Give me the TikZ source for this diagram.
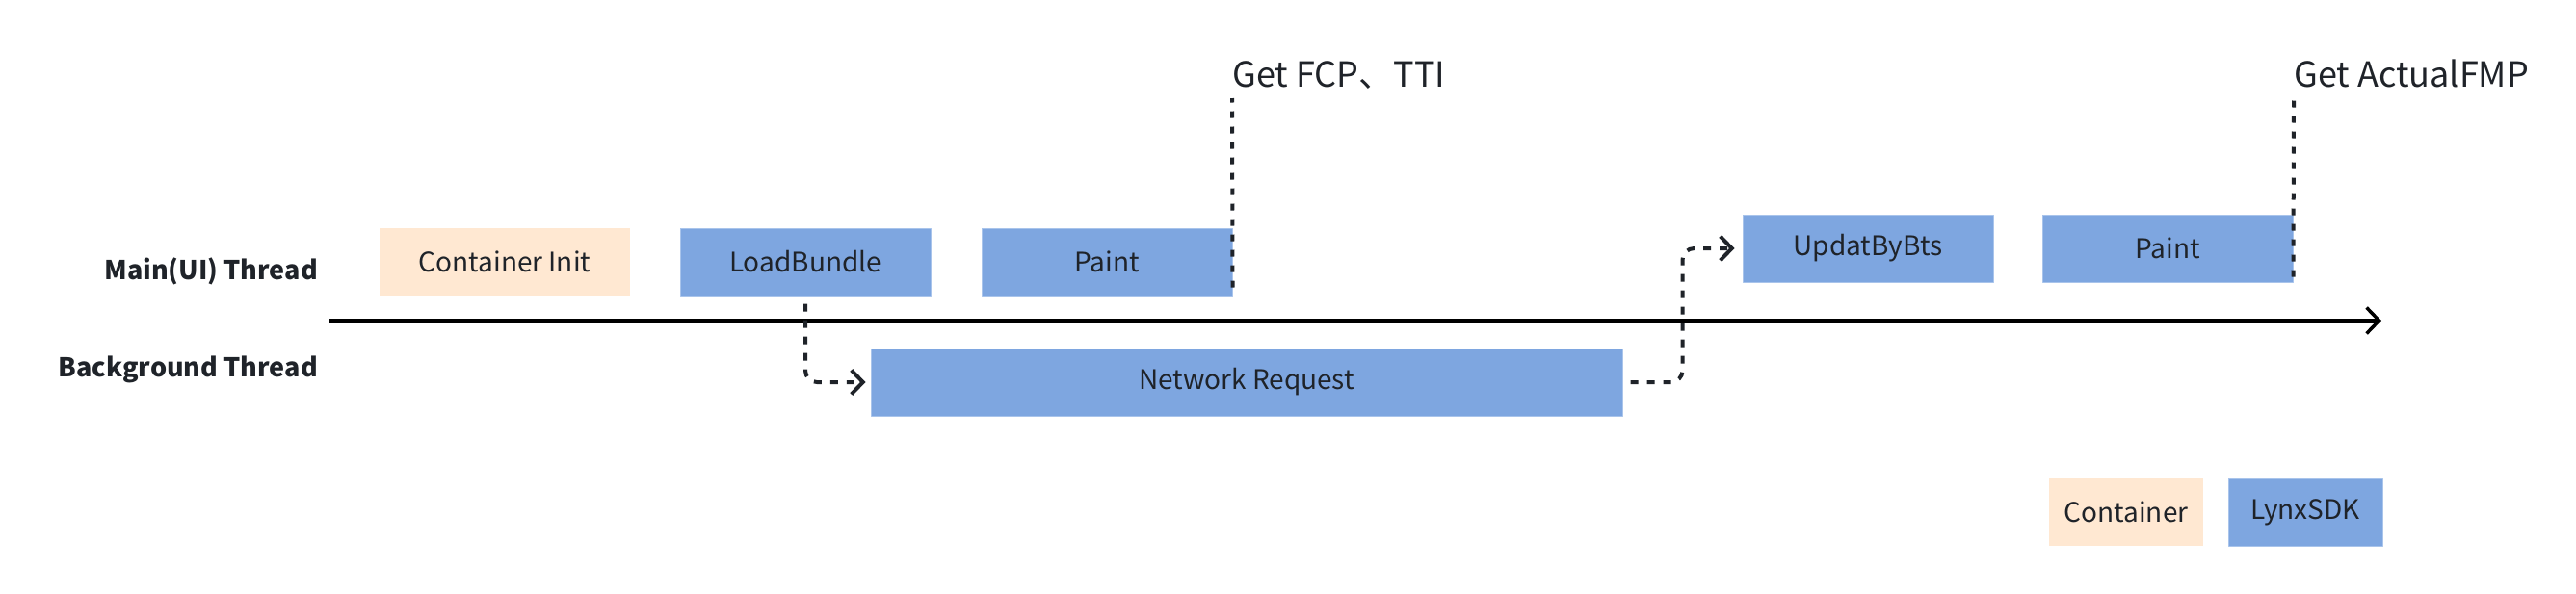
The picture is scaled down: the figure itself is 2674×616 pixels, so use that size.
\documentclass[tikz,border=0pt]{standalone}
\usepackage{fontspec}
\setmainfont{Noto Sans CJK SC}
\usepackage{xcolor}
\usetikzlibrary{arrows.meta,calc}
\definecolor{lynxblue}{HTML}{7EA6E0}
\definecolor{lynxedge}{HTML}{A9C4EB}
\definecolor{hostpeach}{HTML}{FFE8D2}
\definecolor{inkgray}{HTML}{1F2329}
\tikzset{
  every picture/.style={line join=round, >=Stealth},
  stagebox/.style={minimum height=70pt, inner sep=0pt, font=\fontsize{28}{32}\selectfont, text=inkgray},
  sdkbox/.style={stagebox, fill=lynxblue, draw=lynxedge, line width=1pt},
  hostbox/.style={stagebox, fill=hostpeach},
  threadlabel/.style={font=\bfseries\fontsize{27}{30}\selectfont, text=inkgray, anchor=east, inner sep=0pt},
  marklabel/.style={font=\fontsize{36}{40}\selectfont, text=inkgray, anchor=base west, inner sep=0pt},
  flow/.style={draw=inkgray, line width=4pt, dash pattern=on 8pt off 9pt, rounded corners=12pt,
    -{Straight Barb[length=12pt,width=25pt,line width=4pt]}},
  marker/.style={draw=inkgray, line width=4pt, dash pattern=on 7pt off 9pt},
}

\begin{document}
\begin{tikzpicture}[x=1pt,y=-1pt]
\useasboundingbox (0,0) rectangle (2674,616);
% thread names
\node[threadlabel] (mainlbl) at (330,282) {Main(UI) Thread};
\node[threadlabel] (bglbl) at (330,384) {Background Thread};
% time axis
\coordinate (axisstart) at (342,333);
\coordinate (axisend) at (2472,333);
\draw[line width=3.5pt, -{Straight Barb[length=13pt,width=27pt,line width=3.5pt]}] (axisstart) -- (axisend);
% main thread
\node[hostbox, minimum width=260pt] (cinit) at (524,272) {Container Init};
\node[sdkbox, minimum width=260pt] (load) at (836,272) {LoadBundle};
\node[sdkbox, minimum width=260pt] (paintA) at (1149,272) {Paint};
\node[sdkbox, minimum width=260pt] (upd) at (1939,258) {UpdatByBts};
\node[sdkbox, minimum width=260pt] (paintB) at (2250,258) {Paint};
% background thread
\node[sdkbox, minimum width=780pt] (netreq) at (1294,397) {Network Request};
% legend
\node[hostbox, minimum width=160pt] (legcont) at (2207,532) {Container};
\node[sdkbox, minimum width=160pt] (leglynx) at (2393,532) {LynxSDK};
% metrics
\node[marklabel] (fcp) at (1279,90) {Get FCP、TTI};
\node[marklabel] (fmp) at (2381,90) {Get ActualFMP};
\draw[marker] ([yshift=9pt]paintA.south east) -- ([yshift=-12pt]fcp.base west);
\draw[marker] ([yshift=6pt]paintB.south east) -- ([yshift=-12pt]fmp.base west);
% hand-offs
\draw[flow] ([yshift=-8pt]load.south) |- ([xshift=-5pt]netreq.west);
\draw[flow] ([xshift=8pt]netreq.east) -| ($(netreq.east)!0.5!(upd.west)$) |- ([xshift=-8pt]upd.west);
\end{tikzpicture}
\end{document}
